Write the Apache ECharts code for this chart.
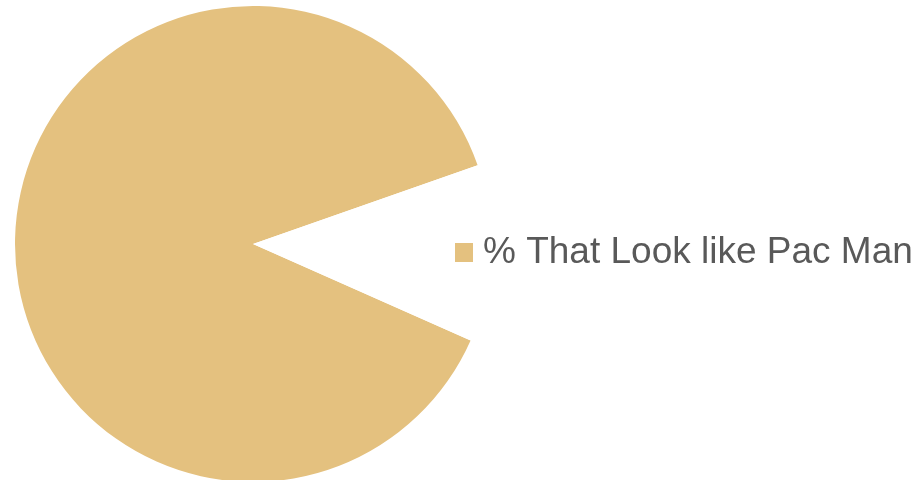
<!DOCTYPE html>
<html>
<head>
<meta charset="utf-8">
<script src="https://cdn.jsdelivr.net/npm/echarts@6/dist/echarts.min.js"></script>
<style>
  html, body { margin: 0; padding: 0; background: #fff; }
  #chart { width: 923px; height: 480px; }
</style>
</head>
<body>
<div id="chart"></div>
<script>
// slice names and values (percent)
const sliceNames = ['% That Look like Pac Man', '% That Do Not'];
const sliceValues = [88, 12];
const sliceColors = ['#E4C17F', '#FFFFFF'];

const chart = echarts.init(document.getElementById('chart'));

const option = {
    animation: false,
    backgroundColor: '#fff',
    legend: {
        data: [sliceNames[0]],   // only the pac man slice is listed
        orient: 'vertical',
        left: 450,
        top: 229,
        itemWidth: 18,
        itemHeight: 19,
        icon: 'rect',
        selectedMode: false,
        textStyle: {
            fontFamily: 'Liberation Sans',
            fontSize: 37,
            color: '#595959',
            padding: [0, 0, 0, 5]
        }
    },
    series: [{
        type: 'pie',
        center: [253, 244],
        radius: 238,
        startAngle: -23.9,
        clockwise: true,
        silent: true,
        label: { show: false },
        labelLine: { show: false },
        emphasis: { disabled: true },
        data: sliceNames.map((name, i) => ({
            name: name,
            value: sliceValues[i],
            itemStyle: { color: sliceColors[i], borderWidth: 0 }
        }))
    }]
};

chart.setOption(option);
</script>
</body>
</html>
